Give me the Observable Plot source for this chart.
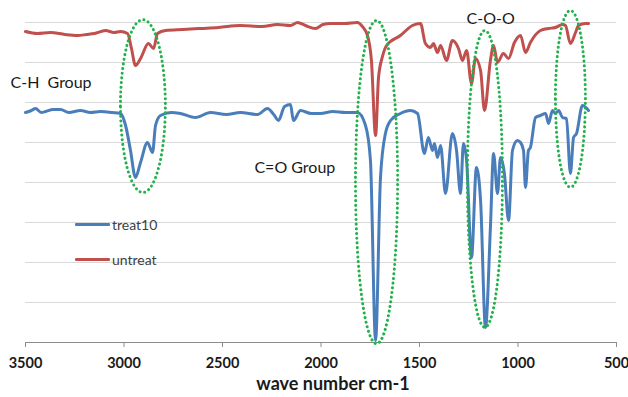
<!DOCTYPE html>
<html>
<head>
<meta charset="utf-8">
<script src="https://cdn.jsdelivr.net/npm/d3@7"></script>
<script src="https://cdn.jsdelivr.net/npm/@observablehq/plot@0.6"></script>
<style>
  html, body { margin: 0; padding: 0; background: #fff; overflow: hidden; }
  #wrap { position: relative; width: 628px; height: 397px; font-family: Lato, "Open Sans", sans-serif; }
  .leg { position: absolute; left: 75px; font-size: 14px; color: #404040; display: flex; align-items: center; }
  .leg span.sw { display: inline-block; width: 35px; height: 3px; margin-right: 2px; border-radius: 1px; }
</style>
</head>
<body>
<div id="wrap"></div>
<script>
// Wave numbers (cm-1) and transmittance-like values
const untreatWave = [3500,3440,3373,3300,3236,3190,3150,3094,3050,3018,2982,2962,2942,2916,2876,2850,2830,2789,2700,2612,2520,2409,2300,2220,2155,2119,2079,2028,1990,1952,1880,1815,1790,1764,1744,1723,1708,1688,1667,1597,1536,1495,1470,1444,1429,1409,1393,1363,1333,1302,1282,1261,1236,1216,1190,1170,1140,1124,1104,1074,1048,1018,987,962,937,886,845,810,774,759,734,708,693,657,642];
const untreatVal  = [77.75,77.25,77.5,77.0,76.75,77.0,77.25,78.0,77.5,77.75,77.25,73.5,69.25,71.0,74.75,73.5,77.25,78.0,78.25,78.5,78.75,79.25,79.0,79.5,79.25,80.0,79.25,78.5,79.5,79.75,79.75,80.0,79.0,76.75,70.5,51.75,66.25,71.5,74.25,76.75,79.25,79.75,74.75,73.75,74.75,72.5,74.25,70.5,75.5,73.5,70.5,73.0,64.75,71.0,68.0,58.0,70.5,74.25,70.0,72.25,71.0,75.0,76.75,72.5,75.0,78.0,78.5,78.75,79.5,79.25,74.75,77.5,79.25,79.75,79.75];

const treatWave = [3500,3470,3449,3420,3398,3360,3322,3280,3221,3170,3119,3060,3018,2992,2967,2942,2916,2881,2855,2840,2815,2760,2713,2637,2561,2480,2409,2322,2272,2240,2216,2185,2155,2140,2104,2050,2003,1940,1876,1815,1774,1749,1723,1698,1673,1647,1597,1546,1510,1475,1455,1434,1424,1409,1393,1368,1333,1312,1292,1277,1261,1236,1211,1190,1165,1140,1124,1104,1089,1069,1048,1028,1003,987,972,962,947,937,911,886,860,845,825,810,794,774,754,734,718,703,673,642];
const treatVal  = [57.5,58.0,58.5,57.5,57.75,58.25,58.25,57.5,58.0,57.5,57.75,57.5,57.25,54.25,48.0,41.25,45.0,50.0,47.5,54.25,56.75,57.5,57.25,56.25,57.5,57.0,57.5,57.0,58.5,57.0,55.5,59.0,59.5,55.5,58.0,57.25,57.25,57.75,57.5,57.5,54.25,45.5,0.5,41.25,52.25,55.5,57.25,58.0,57.25,47.25,51.25,48.0,49.75,46.25,49.25,37.25,52.25,48.0,37.25,49.75,45.5,21.25,43.75,35.5,3.75,28.75,47.25,37.25,46.25,42.25,30.5,48.0,50.5,50.0,48.0,38.75,48.0,48.75,56.25,56.75,57.25,54.75,58.0,57.25,58.0,56.25,56.0,42.25,51.25,52.25,59.25,58.0];

const seriesNames = ["treat10", "untreat"];
const seriesColors = ["#4a7ebb", "#c0504d"];
const xTicks = [3500, 3000, 2500, 2000, 1500, 1000, 500];
const xLabel = "wave number cm-1";

// Annotations: labels and highlight ellipses (data units)
const noteText = ["C-H  Group", "C=O Group", "C-O-O"];
const noteWave = [3576, 2338, 1261];
const noteVal  = [64.9, 43.75, 80.8];
const ellCx = [2904, 1718, 1168, 734];
const ellCy = [59.1, 40.1, 40.9, 60.9];
const ellRx = [114, 107, 89, 76];
const ellRy = [21.6, 40.4, 37.1, 22.1];

const rows = [
  ...treatWave.map((w, i) => ({series: seriesNames[0], w, v: treatVal[i]})),
  ...untreatWave.map((w, i) => ({series: seriesNames[1], w, v: untreatVal[i]}))
];
const ellPts = [];
ellCx.forEach((cx, k) => {
  for (let j = 0; j <= 120; j++) {
    const t = (j / 120) * 2 * Math.PI;
    ellPts.push({k, w: cx + ellRx[k] * Math.cos(t), v: ellCy[k] + ellRy[k] * Math.sin(t)});
  }
});
const notes = noteText.map((t, i) => ({t, w: noteWave[i], v: noteVal[i]}));

const chart = Plot.plot({
  width: 628,
  height: 397,
  marginLeft: 25,
  marginRight: 12,
  marginTop: 22,
  marginBottom: 55,
  style: {fontFamily: "Lato, 'Open Sans', sans-serif", background: "#fff", overflow: "visible"},
  x: {domain: [3500, 500], ticks: xTicks, label: null},
  y: {domain: [0, 80], axis: null},
  color: {domain: seriesNames, range: seriesColors},
  marks: [
    Plot.gridY(d3.range(10, 81, 10), {stroke: "#d9d9d9", strokeOpacity: 1, strokeWidth: 1}),
    Plot.ruleY([0], {stroke: "#8c8c8c", strokeWidth: 1}),
    Plot.axisX({ticks: xTicks, tickSize: 5, tickPadding: 10, stroke: "#8c8c8c", fontSize: 14.5, fontWeight: "bold", fill: "#1a1a1a", label: null, tickFormat: d => String(d)}),
    Plot.line(rows, {x: "w", y: "v", z: "series", stroke: "series", strokeWidth: 3, curve: "monotone-x", strokeLinejoin: "round", strokeLinecap: "round"}),
    Plot.line(ellPts, {x: "w", y: "v", z: "k", stroke: "#22b24c", strokeWidth: 3, strokeDasharray: "0.1,4.6", strokeLinecap: "round"}),
    Plot.text(notes, {x: "w", y: "v", text: "t", textAnchor: "start", fontSize: 16, fill: "#1a1a1a"}),
    Plot.text([xLabel], {frameAnchor: "bottom", dy: 47, dx: 12, fontSize: 18, fontWeight: "bold", fill: "#1a1a1a"})
  ]
});

const wrap = document.getElementById("wrap");
wrap.appendChild(chart);
seriesNames.forEach((name, i) => {
  const d = document.createElement("div");
  d.className = "leg";
  d.style.top = (i === 0 ? 216 : 251) + "px";
  d.innerHTML = `<span class="sw" style="background:${seriesColors[i]}"></span>${name}`;
  wrap.appendChild(d);
});
</script>
</body>
</html>
